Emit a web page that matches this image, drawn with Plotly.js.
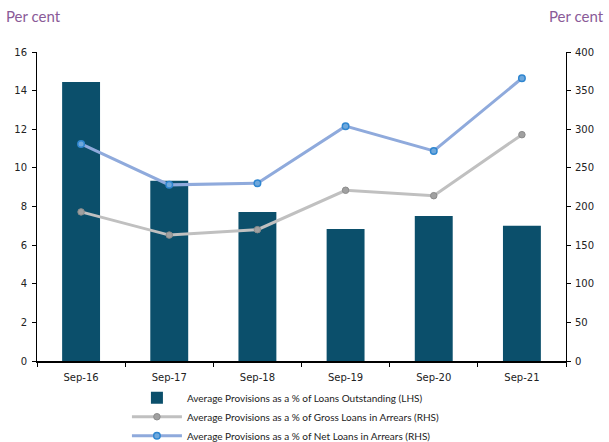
<!DOCTYPE html>
<html><head><meta charset="utf-8">
<script src="https://cdn.plot.ly/plotly-3.0.1.min.js"></script>
<style>html,body{margin:0;padding:0;background:#fff}#chart{width:609px;height:442px}</style>
</head><body><div id="chart"></div>
<script>
const categories = ["Sep-16","Sep-17","Sep-18","Sep-19","Sep-20","Sep-21"];
const provLoansOutstanding = [14.45, 9.33, 7.72, 6.84, 7.51, 7.0];
const provGrossArrears = [193, 163, 170, 221, 214, 293];
const provNetArrears = [281, 228, 230, 304, 272, 366];
const leftTicks = [0,2,4,6,8,10,12,14,16];
const rightTicks = [0,50,100,150,200,250,300,350,400];

const tickFont = {family: "DejaVu Sans", size: 10, color: "#222"};
const traces = [
  {type:"bar", x:categories, y:provLoansOutstanding, name:"Average Provisions as a % of Loans Outstanding (LHS)",
   marker:{color:"#0B4F6B"}, width:0.43, yaxis:"y"},
  {type:"scatter", mode:"lines+markers", x:categories, y:provGrossArrears, yaxis:"y2",
   name:"Average Provisions as a % of Gross Loans in Arrears (RHS)",
   line:{color:"#C0C0C0", width:3}, marker:{color:"#A0A0A0", size:6.5, line:{color:"#8C8C8C", width:1}}},
  {type:"scatter", mode:"lines+markers", x:categories, y:provNetArrears, yaxis:"y2",
   name:"Average Provisions as a % of Net Loans in Arrears (RHS)",
   line:{color:"#8FAADC", width:3}, marker:{color:"#6FA8DC", size:6.5, line:{color:"#2F86D0", width:1.5}}}
];
const layout = {
  width:609, height:442,
  margin:{l:37, r:43, t:52, b:81, autoexpand:false},
  paper_bgcolor:"#fff", plot_bgcolor:"#fff",
  showlegend:true,
  legend:{orientation:"v", x:0.17, xanchor:"left", y:-0.072, yanchor:"top",
    font:{family:"Lato", size:10, color:"#222"}, itemwidth:50, tracegroupgap:0,
    bgcolor:"rgba(0,0,0,0)"},
  xaxis:{type:"category", showgrid:false, showline:true, linecolor:"#000", linewidth:1.5,
    ticks:"outside", tickson:"boundaries", ticklen:4, tickcolor:"#000", tickfont:tickFont, zeroline:false,
    ticklabelstandoff:6},
  yaxis:{range:[0,16], tickvals:leftTicks, showgrid:false, showline:true, linecolor:"#000", linewidth:1,
    ticks:"outside", ticklen:4, tickcolor:"#000", tickfont:tickFont, zeroline:false, ticklabelstandoff:3},
  yaxis2:{range:[0,400], tickvals:rightTicks, overlaying:"y", side:"right", anchor:"x", showgrid:false,
    showline:true, linecolor:"#000", linewidth:1, ticks:"outside", ticklen:4, tickcolor:"#000",
    tickfont:tickFont, zeroline:false, ticklabelstandoff:2},
  annotations:[
    {text:"Per cent", xref:"paper", yref:"paper", x:-0.062, y:1.115, xanchor:"left", yanchor:"middle", showarrow:false,
     font:{family:"Lato", size:15, color:"#8A5A98"}},
    {text:"Per cent", xref:"paper", yref:"paper", x:1.076, y:1.115, xanchor:"right", yanchor:"middle", showarrow:false,
     font:{family:"Lato", size:15, color:"#8A5A98"}}
  ]
};
Plotly.newPlot("chart", traces, layout, {displayModeBar:false, staticPlot:true});
</script></body></html>
